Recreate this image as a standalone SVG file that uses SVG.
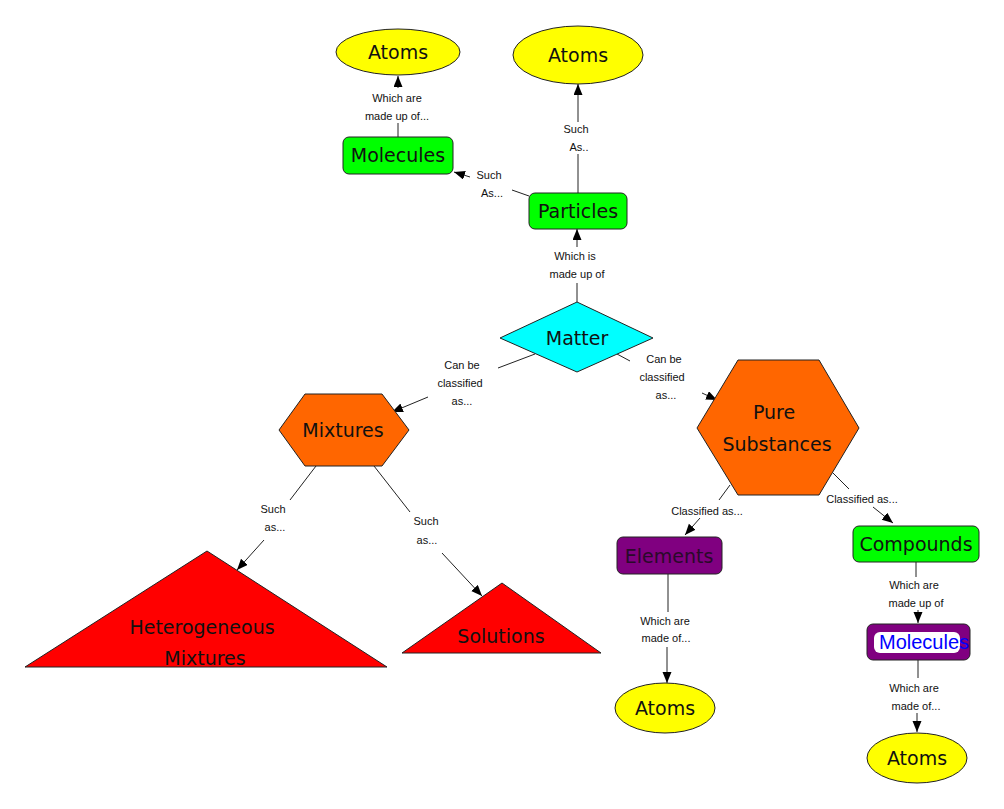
<svg xmlns="http://www.w3.org/2000/svg" width="1004" height="809" viewBox="0 0 1004 809">
<defs>
<style>
.bg{fill:#ffffff}
.node{stroke:#222222;stroke-width:1}
.yellow{fill:#ffff00}
.green{fill:#00ff00}
.cyan{fill:#00ffff}
.orange{fill:#ff6600}
.red{fill:#ff0000}
.purple{fill:#800080}
.nt{font-family:"DejaVu Sans","Liberation Sans",sans-serif;font-size:19px;fill:#111111;text-anchor:middle}
.lt{font-family:"Liberation Sans","DejaVu Sans",sans-serif;font-size:11px;fill:#111111;text-anchor:middle}
.ln{stroke:#222222;stroke-width:1;fill:none}
.arr{stroke:#222222;stroke-width:1;fill:none;marker-end:url(#ah)}
</style>
<marker id="ah" markerUnits="userSpaceOnUse" markerWidth="12" markerHeight="10" refX="11" refY="4.5" orient="auto">
<path d="M0,0 L11,4.5 L0,9 z" fill="#000000"/>
</marker>
</defs>
<rect class="bg" x="0" y="0" width="1004" height="809"/>

<g id="connectors">
<!-- Molecules -> Atoms (top-left) -->
<line class="ln" x1="398" y1="137" x2="398" y2="123"/>
<line class="arr" x1="398" y1="88" x2="398" y2="76"/>
<text class="lt" x="397" y="102">Which are</text>
<text class="lt" x="397" y="120">made up of...</text>
<!-- Particles -> Atoms (top-right) -->
<line class="ln" x1="578" y1="193" x2="578" y2="154"/>
<line class="arr" x1="578" y1="122" x2="578" y2="84"/>
<text class="lt" x="576" y="133">Such</text>
<text class="lt" x="579" y="151">As..</text>
<!-- Particles -> Molecules -->
<line class="ln" x1="529" y1="196" x2="512" y2="190"/>
<line class="arr" x1="470" y1="177" x2="454" y2="172"/>
<text class="lt" x="489" y="179">Such</text>
<text class="lt" x="492" y="197">As...</text>
<!-- Matter -> Particles -->
<line class="ln" x1="577" y1="302" x2="577" y2="283"/>
<line class="arr" x1="577" y1="247" x2="577" y2="229"/>
<text class="lt" x="575" y="260">Which is</text>
<text class="lt" x="577" y="278">made up of</text>
<!-- Matter -> Mixtures -->
<line class="ln" x1="535" y1="354" x2="498" y2="368"/>
<line class="arr" x1="428" y1="397" x2="392" y2="412"/>
<text class="lt" x="462" y="369">Can be</text>
<text class="lt" x="460" y="387">classified</text>
<text class="lt" x="462" y="405">as...</text>
<!-- Matter -> Pure Substances -->
<line class="ln" x1="617" y1="354" x2="630" y2="361"/>
<line class="arr" x1="702" y1="393" x2="717" y2="400"/>
<text class="lt" x="664" y="363">Can be</text>
<text class="lt" x="662" y="381">classified</text>
<text class="lt" x="666" y="399">as...</text>
<!-- Mixtures -> Heterogeneous Mixtures -->
<line class="ln" x1="316" y1="466" x2="290" y2="500"/>
<line class="arr" x1="264" y1="540" x2="237" y2="570"/>
<text class="lt" x="273" y="513">Such</text>
<text class="lt" x="275" y="531">as...</text>
<!-- Mixtures -> Solutions -->
<line class="ln" x1="374" y1="466" x2="410" y2="512"/>
<line class="arr" x1="442" y1="553" x2="482" y2="596"/>
<text class="lt" x="426" y="525">Such</text>
<text class="lt" x="427" y="544">as...</text>
<!-- Pure Substances -> Elements -->
<line class="ln" x1="730" y1="485" x2="719" y2="500"/>
<line class="arr" x1="700" y1="518" x2="685" y2="535"/>
<text class="lt" x="707" y="515">Classified as...</text>
<!-- Pure Substances -> Compounds -->
<line class="ln" x1="833" y1="473" x2="849" y2="489"/>
<line class="arr" x1="873" y1="507" x2="893" y2="523"/>
<text class="lt" x="862" y="503">Classified as...</text>
<!-- Elements -> Atoms -->
<line class="ln" x1="668" y1="574" x2="668" y2="612"/>
<line class="arr" x1="667" y1="647" x2="667" y2="683"/>
<text class="lt" x="665" y="625">Which are</text>
<text class="lt" x="666" y="642">made of...</text>
<!-- Compounds -> Molecules -->
<line class="ln" x1="916" y1="562" x2="916" y2="577"/>
<line class="arr" x1="918" y1="610" x2="918" y2="623"/>
<text class="lt" x="914" y="589">Which are</text>
<text class="lt" x="916" y="607">made up of</text>
<!-- Molecules -> Atoms (bottom-right) -->
<line class="ln" x1="918" y1="660" x2="918" y2="678"/>
<line class="arr" x1="917" y1="713" x2="917" y2="732"/>
<text class="lt" x="914" y="692">Which are</text>
<text class="lt" x="916" y="710">made of...</text>
</g>

<g id="atoms-top-left">
<ellipse class="node yellow" cx="398" cy="52" rx="62" ry="23"/>
<text class="nt" x="398" y="59">Atoms</text>
</g>
<g id="atoms-top-right">
<ellipse class="node yellow" cx="578" cy="55" rx="65" ry="29"/>
<text class="nt" x="578" y="62">Atoms</text>
</g>
<g id="molecules-top">
<rect class="node green" x="343" y="137" width="110" height="37" rx="6"/>
<text class="nt" x="398" y="162">Molecules</text>
</g>
<g id="particles">
<rect class="node green" x="529" y="193" width="98" height="36" rx="6"/>
<text class="nt" x="578" y="218">Particles</text>
</g>
<g id="matter">
<polygon class="node cyan" points="577,302 653,338 577,372 500,338"/>
<text class="nt" x="577" y="345">Matter</text>
</g>
<g id="mixtures">
<polygon class="node orange" points="279,430 305,394 382,394 409,430 382,466 305,466"/>
<text class="nt" x="343" y="437">Mixtures</text>
</g>
<g id="pure-substances">
<polygon class="node orange" points="697,428 738,360 819,360 859,428 819,495 738,495"/>
<text class="nt" x="774" y="419">Pure</text>
<text class="nt" x="777" y="451">Substances</text>
</g>
<g id="heterogeneous-mixtures">
<polygon class="node red" points="207,551 387,667 25,667"/>
<text class="nt" x="202" y="634">Heterogeneous</text>
<text class="nt" x="205" y="665">Mixtures</text>
</g>
<g id="solutions">
<polygon class="node red" points="502,583 601,653 402,653"/>
<text class="nt" x="501" y="643">Solutions</text>
</g>
<g id="elements">
<rect class="node purple" x="617" y="537" width="105" height="37" rx="6"/>
<text class="nt" x="669" y="563" style="fill:#2a0a2a">Elements</text>
</g>
<g id="compounds">
<rect class="node green" x="853" y="526" width="126" height="36" rx="6"/>
<text class="nt" x="916" y="551">Compounds</text>
</g>
<g id="atoms-elements">
<ellipse class="node yellow" cx="665" cy="708" rx="50" ry="25"/>
<text class="nt" x="665" y="715">Atoms</text>
</g>
<g id="molecules-bottom">
<rect class="node purple" x="867" y="624" width="103" height="36" rx="6"/>
<rect x="874" y="632" width="86" height="21" rx="6" fill="#ffffff"/>
<text x="924" y="649" style="font-family:'Liberation Sans','DejaVu Sans',sans-serif;font-size:20px;fill:#0000ff;text-anchor:middle">Molecules</text>
</g>
<g id="atoms-bottom-right">
<ellipse class="node yellow" cx="917" cy="758" rx="50" ry="25"/>
<text class="nt" x="917" y="765">Atoms</text>
</g>
</svg>
